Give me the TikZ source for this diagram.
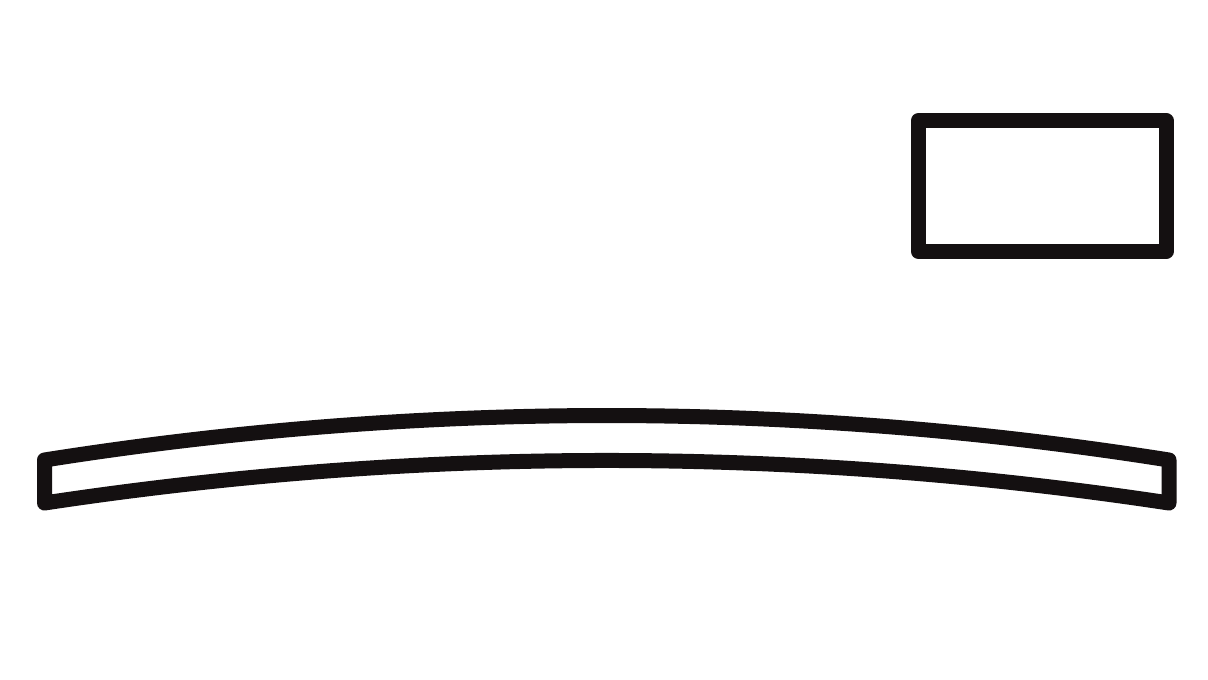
\documentclass[tikz,border=0pt]{standalone}
\begin{document}
\begin{tikzpicture}[x=1pt,y=-1pt,
  outline/.style={draw={rgb,255:red,20;green,16;blue,17}, line width=15pt, line join=round, line cap=round}]
\useasboundingbox (0,0) rectangle (1208,680);
\fill[white] (0,0) rectangle (1208,680);
% box top right
\draw[outline] (918.5,120.5) rectangle (1166,251.5);
% curved bar
\draw[outline] (44.5,460) .. controls (419.5,400.7) and (794,400.7) .. (1169,460)
  -- (1169,503) .. controls (794,446.3) and (419.5,446.3) .. (44.5,503) -- cycle;
\end{tikzpicture}
\end{document}
